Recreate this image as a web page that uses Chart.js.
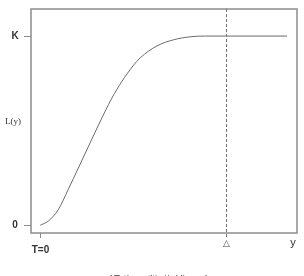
<!DOCTYPE html>
<html>
<head>
<meta charset="utf-8">
<script src="https://cdn.jsdelivr.net/npm/chart.js@4"></script>
<style>
    html, body { margin: 0; padding: 0; background: #fff; }
    #wrap { width: 304px; height: 276px; overflow: hidden; }
</style>
</head>
<body>
<div id="wrap"><canvas id="chart" width="304" height="276"></canvas></div>
<script>
// --- data ---
const yPoints = [0, 0.43, 0.97, 1.51, 2.05, 2.58, 3.14, 3.86, 4.40, 5.02, 5.39, 6.29, 7.18, 8.08, 8.9, 13.3];
const lValues = [0, 0.022, 0.082, 0.19, 0.302, 0.413, 0.530, 0.672, 0.76, 0.845, 0.885, 0.948, 0.980, 0.996, 1, 1];

const yTickValues = [0, 1];
const yTickLabels = ['0', 'K'];
const xTickValues = [0];
const xTickLabels = ['T=0'];
const deltaValue = [10];
const deltaLabel = ['\u25B3'];
const xAxisName = 'y';
const yAxisName = 'L(y)';
const caption = '图1  损失函数曲线示意图';

const xRange = [-0.5, 13.84];
const yRange = [-0.041, 1.143];

const lineColor = '#6b6b6b';
const frameColor = '#8c8c8c';
const textColor = '#333';

// frame, ticks and labels drawn through the scales
const decorations = {
    id: 'decorations',
    afterDraw(chart) {
        const ctx = chart.ctx;
        const area = chart.chartArea;
        const xs = chart.scales.x;
        const ys = chart.scales.y;
        ctx.save();

        // frame
        ctx.strokeStyle = frameColor;
        ctx.lineWidth = 1.5;
        ctx.strokeRect(area.left, area.top, area.right - area.left, area.bottom - area.top);

        // y ticks (outside, left)
        ctx.lineWidth = 1;
        ctx.fillStyle = textColor;
        ctx.font = 'bold 10px "Liberation Sans", Arial, sans-serif';
        ctx.textAlign = 'center';
        ctx.textBaseline = 'middle';
        yTickValues.forEach((v, i) => {
            const py = Math.round(ys.getPixelForValue(v)) + 0.5;
            ctx.beginPath();
            ctx.moveTo(area.left - 7, py);
            ctx.lineTo(area.left, py);
            ctx.stroke();
            ctx.fillText(yTickLabels[i], area.left - 16, py);
        });

        // x ticks (below)
        xTickValues.forEach((v, i) => {
            const px = Math.round(xs.getPixelForValue(v)) + 0.5;
            ctx.beginPath();
            ctx.moveTo(px, area.bottom);
            ctx.lineTo(px, area.bottom + 5);
            ctx.stroke();
            ctx.fillText(xTickLabels[i], px, area.bottom + 17);
        });

        // delta marker: dashed line through the box down to the triangle
        deltaValue.forEach((v, i) => {
            const px = Math.round(xs.getPixelForValue(v)) + 0.5;
            ctx.strokeStyle = '#777';
            ctx.setLineDash([3, 2]);
            ctx.beginPath();
            ctx.moveTo(px, area.top);
            ctx.lineTo(px, area.bottom + 6);
            ctx.stroke();
            ctx.setLineDash([]);
            ctx.font = '9px "DejaVu Sans", sans-serif';
            ctx.fillStyle = '#444';
            ctx.fillText(deltaLabel[i], px, area.bottom + 11);
        });

        // axis names
        ctx.fillStyle = textColor;
        ctx.font = '11px "Liberation Sans", Arial, sans-serif';
        ctx.textAlign = 'center';
        ctx.fillText(xAxisName, area.right - 4, area.bottom + 10);
        ctx.font = '9px "Liberation Serif", "Times New Roman", serif';
        ctx.fillText(yAxisName, area.left - 18, (ys.getPixelForValue(yRange[0]) + ys.getPixelForValue(yRange[1])) / 2 + 1);

        // caption, cut off by the bottom edge
        ctx.font = '13px "Noto Sans CJK SC", sans-serif';
        ctx.fillStyle = '#444';
        ctx.textBaseline = 'alphabetic';
        ctx.fillText(caption, (area.left + area.right) / 2 - 10, 286);

        ctx.restore();
    }
};

new Chart(document.getElementById('chart'), {
    type: 'line',
    data: {
        datasets: [{
            data: yPoints.map((x, i) => ({ x: x, y: lValues[i] })),
            borderColor: lineColor,
            borderWidth: 1,
            pointRadius: 0,
            fill: false,
            cubicInterpolationMode: 'monotone'
        }]
    },
    options: {
        responsive: false,
        animation: false,
        layout: { padding: { left: 31, top: 9, right: 7, bottom: 43 } },
        plugins: { legend: { display: false }, tooltip: { enabled: false } },
        scales: {
            x: { type: 'linear', min: xRange[0], max: xRange[1], display: false },
            y: { type: 'linear', min: yRange[0], max: yRange[1], display: false }
        }
    },
    plugins: [decorations]
});
</script>
</body>
</html>
